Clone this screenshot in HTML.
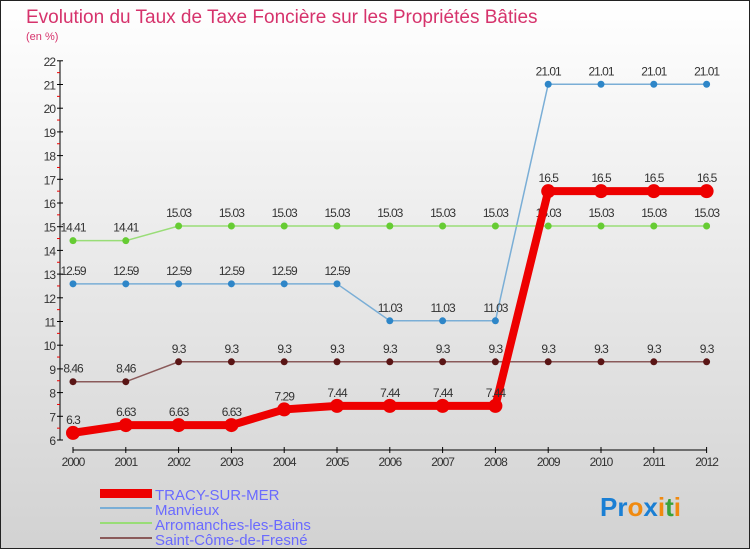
<!DOCTYPE html>
<html><head><meta charset="utf-8"><style>
body{margin:0}
#c{width:750px;height:550px;position:relative;overflow:hidden;font-family:"Liberation Sans",sans-serif}
</style></head><body>
<div id="c">
<svg id="s" width="750" height="550" xmlns="http://www.w3.org/2000/svg">
<defs><linearGradient id="bg" x1="0" y1="0" x2="0" y2="1"><stop offset="0" stop-color="#ffffff"/><stop offset="1" stop-color="#d2d2d2"/></linearGradient></defs>
<rect x="0.5" y="0.5" width="749" height="548" fill="url(#bg)" stroke="#222"/>
<text x="26" y="23" font-size="19" fill="#d6336c">Evolution du Taux de Taxe Foncière sur les Propriétés Bâties</text>
<text x="26" y="40" font-size="11" fill="#d6336c">(en %)</text>
<g id="axes"></g><g id="series"></g>
<g>
<rect x="100" y="489" width="52" height="9" fill="#e00"/>
<text x="155" y="500" font-size="15" fill="#6a6aff">TRACY-SUR-MER</text>
<line x1="100" y1="508" x2="152" y2="508" stroke="#7aaed6" stroke-width="2"/>
<text x="155" y="515" font-size="15" fill="#6a6aff">Manvieux</text>
<line x1="100" y1="523" x2="152" y2="523" stroke="#99dd77" stroke-width="2"/>
<text x="155" y="530" font-size="15" fill="#6a6aff">Arromanches-les-Bains</text>
<line x1="100" y1="538" x2="152" y2="538" stroke="#8a5a5a" stroke-width="2"/>
<text x="155" y="545" font-size="15" fill="#6a6aff">Saint-Côme-de-Fresné</text>
</g>
<text x="600" y="516" font-size="26" font-weight="bold"><tspan fill="#1a7fd4">Pr</tspan><tspan fill="#f08a10">o</tspan><tspan fill="#1a7fd4">x</tspan><tspan fill="#f08a10">i</tspan><tspan fill="#3aa23a">t</tspan><tspan fill="#f08a10">i</tspan></text>
</svg></div>
<script>
const years=[2000,2001,2002,2003,2004,2005,2006,2007,2008,2009,2010,2011,2012];
const yTicks=[6,7,8,9,10,11,12,13,14,15,16,17,18,19,20,21,22];
const tracy=[6.3,6.63,6.63,6.63,7.29,7.44,7.44,7.44,7.44,16.5,16.5,16.5,16.5];
const manvieux=[12.59,12.59,12.59,12.59,12.59,12.59,11.03,11.03,11.03,21.01,21.01,21.01,21.01];
const arromanches=[14.41,14.41,15.03,15.03,15.03,15.03,15.03,15.03,15.03,15.03,15.03,15.03,15.03];
const saintcome=[8.46,8.46,9.3,9.3,9.3,9.3,9.3,9.3,9.3,9.3,9.3,9.3,9.3];
const NS='http://www.w3.org/2000/svg';
const X=i=>73+i*52.8, Y=v=>440-(v-6)*23.7;
function mk(t,a,p){const e=document.createElementNS(NS,t);for(const k in a)e.setAttribute(k,a[k]);p.appendChild(e);return e;}
const ax=document.getElementById('axes');
const yl=mk('line',{x1:60,y1:Y(22),x2:60,y2:Y(6),stroke:'#000'},ax);


yTicks.forEach(v=>{mk('line',{x1:57,y1:Y(v),x2:63,y2:Y(v),stroke:'#000'},ax);
 if(v<22)mk('line',{x1:57,y1:Y(v+0.5),x2:60,y2:Y(v+0.5),stroke:'#e00'},ax);
 const t=mk('text',{x:55,y:Y(v)+5,'text-anchor':'end','font-size':12,fill:'#333','letter-spacing':'-1'},ax);t.textContent=v;
 
 });
const xl=mk('line',{x1:X(0),y1:450,x2:X(12),y2:450,stroke:'#000'},ax);


years.forEach((y,i)=>{mk('line',{x1:X(i),y1:447,x2:X(i),y2:453,stroke:'#000'},ax);
 const t=mk('text',{x:X(i),y:466,'text-anchor':'middle','font-size':12,fill:'#333','letter-spacing':'-1'},ax);t.textContent=y;
 
 });
const sg=document.getElementById('series');
function series(data,color,dot,w,r,name){
 const g=mk('g',{},sg);
 
 
 mk('polyline',{points:data.map((v,i)=>X(i)+','+Y(v)).join(' '),fill:'none',stroke:color,'stroke-width':w},g);
 data.forEach((v,i)=>{const c=mk('circle',{cx:X(i),cy:Y(v),r:r,fill:dot},g);
  
  
  const t=mk('text',{x:X(i),y:Y(v)-9,'text-anchor':'middle','font-size':12,fill:'#333','letter-spacing':'-1'},g);t.textContent=v;
  
  });
}
series(saintcome,'#8a5a5a','#5a1515',1.5,3.5,'series-saint-come');
series(manvieux,'#7aaed6','#2e86c8',1.5,3.5,'series-manvieux');
series(arromanches,'#99dd77','#66cc33',1.5,3.5,'series-arromanches');
series(tracy,'#ee0000','#ee0000',8,7,'series-tracy');
</script>
</body></html>
